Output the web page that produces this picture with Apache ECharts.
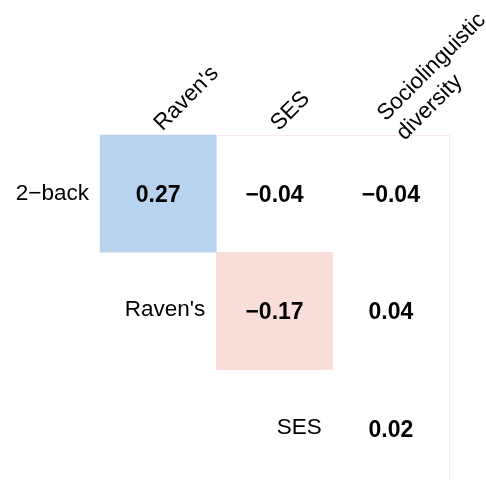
<!DOCTYPE html>
<html>
<head>
<meta charset="utf-8">
<script src="https://cdn.jsdelivr.net/npm/echarts@6/dist/echarts.min.js"></script>
<style>html,body{margin:0;padding:0;background:#fff;}#c{width:486px;height:480px;}</style>
</head>
<body>
<div id="c"></div>
<script>
var rowLabels = ['2\u2212back', "Raven's", 'SES'];
var colLabels = ["Raven's", 'SES', 'Sociolinguistic\ndiversity'];
var row0 = [0.27, -0.04, -0.04];
var row1 = [null, -0.17, 0.04];
var row2 = [null, null, 0.02];
var rowsValues = [row0, row1, row2];
var diagLabels = ["Raven's", 'SES'];

var FONT = 'Liberation Sans, Arial, Helvetica, sans-serif';
var BLUE = '#b8d3ee';
var PINK = '#f9ddd9';

var heatData = [];
rowsValues.forEach(function (vals, r) {
  vals.forEach(function (v, c) {
    if (v === null) return;
    var color = v >= 0.1 ? BLUE : (v <= -0.1 ? PINK : 'rgba(255,255,255,0)');
    heatData.push({ value: [c, r, v], itemStyle: { color: color } });
  });
});
var diagData = diagLabels.map(function (name, i) {
  return { value: [i, i + 1], name: name };
});

var chart = echarts.init(document.getElementById('c'), null, { renderer: 'canvas' });
chart.setOption({
  backgroundColor: '#fff',
  animation: false,
  grid: { left: 100, top: 135, width: 349, height: 352, outerBoundsMode: 'none', containLabel: false },
  xAxis: {
    type: 'category',
    position: 'top',
    data: colLabels,
    axisLine: { show: true, lineStyle: { color: '#f7e9e9', width: 1 } },
    axisTick: { show: false },
    splitLine: { show: false },
    axisLabel: {
      rotate: -45,
      margin: 8,
      fontFamily: FONT,
      fontSize: 22.5,
      lineHeight: 27,
      color: '#000'
    }
  },
  yAxis: [{
    type: 'category',
    inverse: true,
    data: rowLabels,
    axisLine: { show: false },
    axisTick: { show: false },
    splitLine: { show: false },
    axisLabel: {
      margin: 11,
      fontFamily: FONT,
      fontSize: 22.5,
      color: '#000',
      formatter: function (v, i) { return i === 0 ? v : ''; }
    }
  }, {
    type: 'category',
    inverse: true,
    position: 'right',
    data: rowLabels,
    axisLine: { show: true, lineStyle: { color: '#f7e9e9', width: 1 } },
    axisTick: { show: false },
    axisLabel: { show: false },
    splitLine: { show: false }
  }],
  series: [{
    type: 'heatmap',
    data: heatData,
    label: {
      show: true,
      offset: [0, 2],
      fontFamily: FONT,
      fontSize: 23,
      fontWeight: 'bold',
      color: '#000',
      formatter: function (p) {
        return p.value[2].toFixed(2).replace('-', '\u2212');
      }
    },
    emphasis: { disabled: true }
  }, {
    type: 'custom',
    data: diagData,
    renderItem: function (params, api) {
      var pt = api.coord([api.value(0), api.value(1)]);
      var size = api.size([1, 1]);
      return {
        type: 'text',
        x: pt[0] + size[0] / 2 - 11,
        y: pt[1] - 1,
        style: {
          text: diagLabels[params.dataIndex],
          fontFamily: FONT,
          fontSize: 22.5,
          fill: '#000',
          align: 'right',
          verticalAlign: 'middle'
        }
      };
    }
  }]
});
</script>
</body>
</html>
